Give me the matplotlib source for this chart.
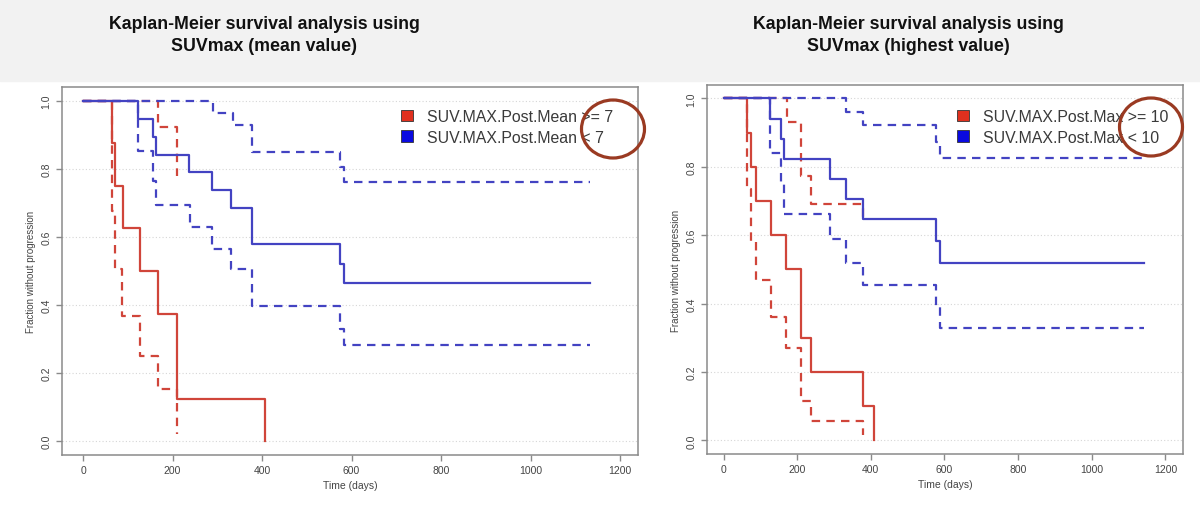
import numpy as np
import matplotlib
matplotlib.use('Agg')
import matplotlib.pyplot as plt
from matplotlib.patches import Ellipse, Rectangle, Patch

plt.rcParams['font.family'] = ['Liberation Sans', 'DejaVu Sans']

# left panel: SUVmax mean value, cut at 7
mean_hi_t = [0, 65, 72, 89, 127, 168, 210, 406]
mean_hi_s = [1.0, 0.875, 0.75, 0.625, 0.5, 0.375, 0.125, 0.0]
mean_hi_lo_t = [0, 65, 72, 88, 127, 168, 210]
mean_hi_lo_s = [1.0, 0.677, 0.505, 0.367, 0.25, 0.154, 0.02]
mean_hi_up_t = [0, 168, 210]
mean_hi_up_s = [1.0, 0.923, 0.78]

mean_lo_t = [0, 123, 156, 163, 237, 289, 330, 377, 574, 584, 1133]
mean_lo_s = [1.0, 0.947, 0.895, 0.842, 0.79, 0.737, 0.684, 0.579, 0.52, 0.464, 0.464]
mean_lo_lo_t = [0, 123, 156, 163, 239, 289, 330, 377, 574, 584, 1133]
mean_lo_lo_s = [1.0, 0.854, 0.766, 0.695, 0.629, 0.565, 0.506, 0.396, 0.33, 0.283, 0.283]
mean_lo_up_t = [0, 290, 335, 377, 574, 584, 1133]
mean_lo_up_s = [1.0, 0.964, 0.93, 0.851, 0.805, 0.761, 0.761]

# right panel: SUVmax highest value, cut at 10
max_hi_t = [0, 64, 75, 88, 130, 170, 211, 238, 380, 408]
max_hi_s = [1.0, 0.9, 0.8, 0.7, 0.6, 0.5, 0.3, 0.2, 0.1, 0.0]
max_hi_lo_t = [0, 64, 75, 88, 130, 170, 211, 238, 380]
max_hi_lo_s = [1.0, 0.735, 0.584, 0.469, 0.361, 0.269, 0.116, 0.057, 0.015]
max_hi_up_t = [0, 172, 211, 237, 380]
max_hi_up_s = [1.0, 0.93, 0.772, 0.691, 0.652]

max_lo_t = [0, 125, 157, 163, 290, 333, 380, 577, 589, 1141]
max_lo_s = [1.0, 0.941, 0.882, 0.824, 0.765, 0.706, 0.647, 0.584, 0.518, 0.518]
max_lo_lo_t = [0, 125, 157, 163, 290, 333, 380, 577, 589, 1141]
max_lo_lo_s = [1.0, 0.839, 0.75, 0.662, 0.589, 0.518, 0.455, 0.394, 0.327, 0.327]
max_lo_up_t = [0, 333, 380, 577, 589, 1141]
max_lo_up_s = [1.0, 0.961, 0.922, 0.871, 0.827, 0.827]

titles = ['Kaplan-Meier survival analysis using\nSUVmax (mean value)',
          'Kaplan-Meier survival analysis using\nSUVmax (highest value)']
legend_labels = [['SUV.MAX.Post.Mean >= 7', 'SUV.MAX.Post.Mean < 7'],
                 ['SUV.MAX.Post.Max >= 10', 'SUV.MAX.Post.Max < 10']]
xticks = [0, 200, 400, 600, 800, 1000, 1200]
yticks = [0.0, 0.2, 0.4, 0.6, 0.8, 1.0]

RED = '#d0453a'
BLUE = '#4343c2'
DASH = (0, (3.8, 2.8))

W, H = 1200, 506
fig = plt.figure(figsize=(12, 5.06), dpi=100, facecolor='white')
fig.add_artist(Rectangle((0, 1 - 82 / H), 1, 82 / H, transform=fig.transFigure,
                         color='#f2f2f2', zorder=0))


def px_box(x0, y0, x1, y1):
    return [x0 / W, 1 - y1 / H, (x1 - x0) / W, (y1 - y0) / H]


def km_panel(ax, curves, labels, xlim, ylim, leg_xy):
    for t, s, c, ls in curves:
        ax.step(t, s, where='post', color=c, lw=1.6, linestyle=ls)
    ax.set_xlim(*xlim)
    ax.set_ylim(*ylim)
    ax.set_xticks(xticks)
    ax.set_yticks(yticks)
    ax.set_yticklabels(['%.1f' % v for v in yticks], rotation=90, va='center')
    for v in yticks:
        ax.axhline(v, color='#d6d6d6', lw=0.8, ls=(0, (1, 2)), zorder=0)
    for sp in ax.spines.values():
        sp.set_color('#8a8a8a')
        sp.set_linewidth(1.1)
    ax.tick_params(direction='out', length=4.5, width=1.0, color='#8a8a8a',
                   labelsize=7.5, labelcolor='#444444', pad=3)
    ax.set_xlabel('Time (days)', fontsize=7.5, color='#444444', labelpad=3)
    ax.set_ylabel('Fraction without progression', fontsize=7, color='#444444',
                  labelpad=4)
    handles = [Patch(facecolor='#e0301e', edgecolor='#333333', lw=0.6),
               Patch(facecolor='#0a0ae0', edgecolor='#333333', lw=0.6)]
    ax.legend(handles, labels, loc='upper left',
              bbox_to_anchor=(leg_xy[0] / W, 1 - leg_xy[1] / H),
              bbox_transform=fig.transFigure, frameon=False, fontsize=11.4,
              handlelength=0.75, handleheight=0.75, handletextpad=0.9,
              borderpad=0, borderaxespad=0, labelspacing=0.36,
              labelcolor='#3a3a3a')


ax1 = fig.add_axes(px_box(62, 88, 638, 456))
km_panel(ax1, [(mean_hi_t, mean_hi_s, RED, '-'),
               (mean_hi_lo_t, mean_hi_lo_s, RED, DASH),
               (mean_hi_up_t, mean_hi_up_s, RED, DASH),
               (mean_lo_t, mean_lo_s, BLUE, '-'),
               (mean_lo_lo_t, mean_lo_lo_s, BLUE, DASH),
               (mean_lo_up_t, mean_lo_up_s, BLUE, DASH)],
         legend_labels[0], (-47, 1240), (-0.041, 1.041), (401, 110))

ax2 = fig.add_axes(px_box(707, 86, 1183, 455))
km_panel(ax2, [(max_hi_t, max_hi_s, RED, '-'),
               (max_hi_lo_t, max_hi_lo_s, RED, DASH),
               (max_hi_up_t, max_hi_up_s, RED, DASH),
               (max_lo_t, max_lo_s, BLUE, '-'),
               (max_lo_lo_t, max_lo_lo_s, BLUE, DASH),
               (max_lo_up_t, max_lo_up_s, BLUE, DASH)],
         legend_labels[1], (-45, 1248), (-0.04, 1.039), (957, 110))

# titles above each chart
fig.text(264 / W, 1 - 35.5 / H, titles[0], ha='center', va='center',
         fontsize=12.8, fontweight='bold', color='#111111', linespacing=1.42)
fig.text(908 / W, 1 - 35.5 / H, titles[1], ha='center', va='center',
         fontsize=12.8, fontweight='bold', color='#111111', linespacing=1.42)

# hand-drawn highlight circles around the cut-off values
for cx, cy in [(613, 130), (1151, 128)]:
    fig.add_artist(Ellipse((cx / W, 1 - cy / H), 63 / W, 58 / H,
                           transform=fig.transFigure, fill=False,
                           ec='#9a3a22', lw=2.3, zorder=10))

fig.savefig('out.png', dpi=100, facecolor=fig.get_facecolor())
